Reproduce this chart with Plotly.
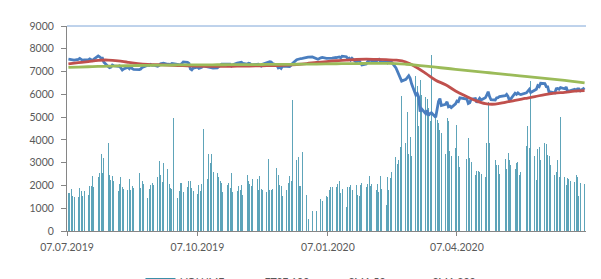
import pandas as pd
import plotly.graph_objects as go

# ---------------- data ----------------
uk_holidays = ["2019-08-26", "2019-12-25", "2019-12-26", "2020-01-01",
               "2020-04-10", "2020-04-13", "2020-05-08", "2020-05-25"]
dates = [d for d in pd.bdate_range("2019-07-08", "2020-07-06")
         if d.strftime("%Y-%m-%d") not in uk_holidays]

volume = [
    1670, 1680, 1840, 1550, 1500,   # Jul 8
    1480, 1880, 1770, 1550, 1770,
    1600, 1980, 1960, 2420, 1950,
    2350, 2530, 3360, 2530, 3200,
    3850, 2450, 2250, 2430, 2200,   # Aug 5
    1770, 2060, 2390, 1920, 1850,
    1820, 2270, 1790, 1960, 1890,
    2530, 1900, 2180, 2050,
    1460, 1860, 2030, 2100, 2030,   # Sep 2
    2350, 3070, 2460, 2150, 2990,
    2720, 2060, 1890, 1860, 4950,
    1460, 1750, 2090, 2090, 1720,
    1950, 2180, 2200, 1890, 1750,
    1610, 2030, 1750, 2060, 4490,   # Oct 7
    2290, 3360, 2990, 3360, 2600,
    2560, 2390, 2180, 2100, 1720,
    2030, 2100, 1890, 2530, 1720,
    1750, 1990, 1780, 2000, 1580,   # Nov 4
    2460, 2180, 2060, 1990, 2290,
    2290, 1790, 2430, 1830, 1820,
    1720, 3140, 1820, 1780, 1860,
    2770, 2460, 2030, 1960, 1540,   # Dec 2
    1820, 2090, 2430, 2180, 5750,
    3100, 3270, 1990, 1960, 3460,
    1580, 540, 900,
    900, 610, 1400, 1330,
    1520, 1490, 1780, 1920, 1920,   # Jan 6
    1950, 2060, 2180, 1690, 1860,
    1070, 1950, 1920, 2000, 1790,
    2000, 1560, 1550, 2000, 2120,
    1920, 2060, 2430, 1990, 2080,   # Feb 3
    1780, 2060, 1710, 2430, 1860,
    1150, 2350, 1780, 2320, 2600,
    3240, 2920, 3100, 3670, 5940,
    3880, 5230, 3380, 4120, 3310,   # Mar 2
    6800, 6370, 4590, 6650, 5970,
    5870, 5800, 5380, 4810, 7720,
    5050, 4880, 4740, 4450, 4310,
    3380, 4950, 4810, 3530, 3310,
    3630, 4660, 3310, 2800,         # Apr 6
    3170, 4100, 3200, 3030,
    2460, 2630, 2650, 2600, 2500,
    2390, 3880, 5660, 3880, 2800,
    3100, 2890, 2890, 2490,         # May 4
    3140, 2740, 3430, 3100, 2900,
    2740, 3000, 3030, 2460, 2600,
    3740, 4590, 3630, 6580,
    3310, 2250, 3600, 3670, 3100,   # Jun 1
    3880, 3810, 3340, 3310, 2890,
    2460, 2600, 3100, 2350, 5020,
    2350, 2030, 2320, 2290, 2200,
    2150, 2460, 2390, 1540, 2100,
    2060,
]

ftse = [
    7549, 7536, 7531, 7509, 7506,
    7531, 7577, 7535, 7493, 7509,
    7515, 7556, 7501, 7489, 7549,
    7687, 7646, 7586, 7585, 7407,
    7223, 7171, 7198, 7286, 7254,
    7226, 7250, 7147, 7067, 7117,
    7189, 7125, 7203, 7128, 7095,
    7089, 7114, 7184, 7207,
    7282, 7268, 7311, 7271, 7282,
    7235, 7267, 7338, 7344, 7367,
    7321, 7320, 7314, 7356, 7345,
    7326, 7291, 7290, 7351, 7426,
    7408, 7360, 7122, 7078, 7155,
    7198, 7143, 7167, 7186, 7247,
    7213, 7212, 7168, 7182, 7151,
    7164, 7212, 7260, 7328, 7324,
    7332, 7306, 7330, 7248, 7302,
    7369, 7388, 7396, 7406, 7359,
    7328, 7365, 7351, 7292, 7303,
    7307, 7323, 7263, 7238, 7327,
    7395, 7404, 7430, 7417, 7347,
    7286, 7158, 7188, 7137, 7240,
    7233, 7214, 7217, 7273, 7353,
    7519, 7526, 7541, 7573, 7582,
    7624, 7632, 7645,
    7587, 7542, 7604, 7622,
    7575, 7573, 7574, 7598, 7588,
    7617, 7622, 7642, 7610, 7675,
    7651, 7571, 7587, 7508, 7586,
    7412, 7481, 7484, 7381, 7286,
    7326, 7439, 7483, 7505, 7466,
    7446, 7500, 7534, 7452, 7409,
    7433, 7382, 7457, 7437, 7404,
    7157, 7018, 6927, 6796, 6581,
    6655, 6718, 6816, 6705, 6463,
    5965, 6036, 5877, 5237, 5366,
    5151, 5295, 5080, 5152, 5191,
    4994, 5446, 5689, 5816, 5510,
    5564, 5672, 5455, 5480, 5416,
    5582, 5704, 5678, 5843,
    5792, 5598, 5629, 5787,
    5812, 5641, 5770, 5826, 5752,
    5847, 5959, 6116, 5901, 5763,
    5753, 5849, 5853, 5905,
    5940, 5995, 5904, 5742, 5800,
    6049, 6002, 6067, 6016, 5994,
    6068, 6145, 6219, 6077,
    6166, 6221, 6382, 6341, 6484,
    6473, 6336, 6330, 6077, 6105,
    6064, 6243, 6253, 6224, 6293,
    6245, 6320, 6124, 6147, 6159,
    6225, 6170, 6240, 6241, 6157,
    6286,
]

sma_dates = pd.date_range("2019-07-08", "2020-07-06", freq="W-MON")
sma50 = [7340, 7390, 7440, 7495, 7505, 7470, 7405, 7350, 7315, 7298,
         7280, 7265, 7248, 7236, 7228, 7225, 7228, 7236, 7242, 7248,
         7258, 7266, 7283, 7310, 7350, 7400, 7440, 7475, 7500, 7530,
         7545, 7535, 7520, 7500, 7420, 7200, 6920, 6620, 6420, 6150,
         5930, 5730, 5590, 5570, 5650, 5740, 5820, 5900, 5990, 6050,
         6090, 6140, 6160]
sma200 = [7180, 7195, 7210, 7225, 7235, 7245, 7255, 7265, 7272, 7280,
          7286, 7290, 7293, 7295, 7297, 7298, 7300, 7302, 7305, 7308,
          7311, 7314, 7317, 7320, 7325, 7330, 7336, 7342, 7348, 7352,
          7355, 7357, 7356, 7350, 7320, 7280, 7235, 7190, 7145, 7100,
          7055, 7010, 6965, 6920, 6878, 6835, 6790, 6745, 6700, 6655,
          6610, 6560, 6500]

x_tick_vals = ["2019-07-07", "2019-10-07", "2020-01-07", "2020-04-07"]
y_ticks = [0, 1000, 2000, 3000, 4000, 5000, 6000, 7000, 8000, 9000]

assert len(volume) == len(dates) == len(ftse)

# ---------------- figure ----------------
FONT = "Lato"
GREY = "#868686"
TXT = "#595959"

fig = go.Figure()
fig.add_trace(go.Bar(
    x=dates, y=volume, name="VOLUME", legendgroup="vol", showlegend=False,
    width=0.7 * 86400000,
    marker=dict(color="rgba(92,163,184,0.99)", line=dict(width=0)),
))
fig.add_trace(go.Scatter(
    x=[None], y=[None], name="VOLUME", legendgroup="vol", mode="lines",
    line=dict(color="#3d8fa8", width=7),
))
fig.add_trace(go.Scatter(
    x=dates, y=ftse, name="FTSE 100", mode="lines",
    line=dict(color="#4a7ebf", width=2.8),
))
fig.add_trace(go.Scatter(
    x=sma_dates, y=sma50, name="SMA 50", mode="lines", line_shape="spline",
    line=dict(color="#c0504d", width=2.8),
))
fig.add_trace(go.Scatter(
    x=sma_dates, y=sma200, name="SMA 200", mode="lines", line_shape="spline",
    line=dict(color="#9bbb59", width=2.8),
))

# The page body has an 8px margin: the figure starts 8px right/down of the
# window corner, and its lowest 8px fall outside the 279px window.
fig.update_layout(
    width=593, height=279,
    margin=dict(l=59, r=15, t=12, b=56, pad=0),
    paper_bgcolor="white", plot_bgcolor="white",
    font=dict(family=FONT, size=10.5, color=TXT),
    bargap=0,
    showlegend=True,
    legend=dict(
        orientation="h", xref="container", yref="container",
        x=0.2234, y=0.02, xanchor="left", yanchor="middle",
        entrywidth=39, font=dict(family=FONT, size=10.5, color=TXT),
        bgcolor="rgba(0,0,0,0)", tracegroupgap=0,
    ),
    xaxis=dict(
        type="date", range=["2019-07-07", "2020-07-07"],
        tickvals=x_tick_vals, tickformat="%d.%m.%Y",
        ticks="outside", ticklen=4, tickcolor=GREY, tickwidth=1,
        showline=True, linecolor=GREY, linewidth=1,
        showgrid=False, zeroline=False, ticklabelstandoff=2,
    ),
    yaxis=dict(
        range=[0, 9000], tickvals=y_ticks,
        ticks="outside", ticklen=5, tickcolor=GREY,
        showline=True, linecolor=GREY, linewidth=1,
        showgrid=False, zeroline=False, ticklabelstandoff=5,
    ),
    yaxis2=dict(
        overlaying="y", side="right", range=[0, 6], dtick=1,
        showticklabels=False, ticks="outside", ticklen=4, tickcolor=GREY,
        showline=True, linecolor=GREY, linewidth=1,
        showgrid=False, zeroline=False,
    ),
    shapes=[dict(type="line", xref="paper", yref="paper", x0=0, x1=1, y0=1, y1=1,
                 line=dict(color="#7ea6d8", width=1))],
)

fig.write_html("out.html")
